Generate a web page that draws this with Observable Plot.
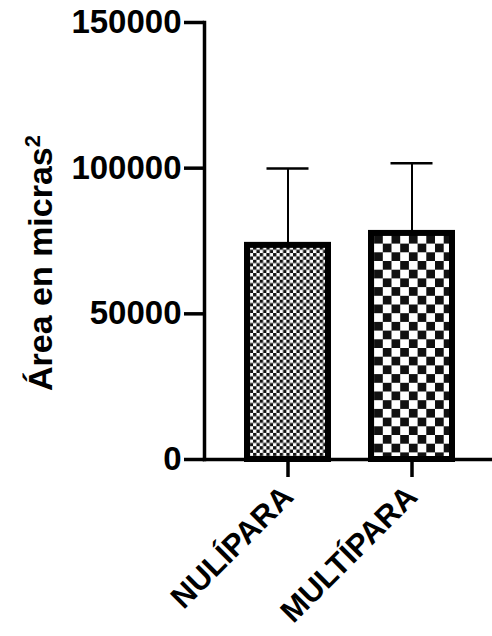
<!DOCTYPE html>
<html><head><meta charset="utf-8">
<script src="https://cdn.jsdelivr.net/npm/d3@7"></script>
<script src="https://cdn.jsdelivr.net/npm/@observablehq/plot@0.6"></script>
<style>
body{margin:0;background:#fff}
</style>
</head><body><div id="chart"></div>
<script>
const groups = ["NULÍPARA", "MULTÍPARA"];
const means = [73500, 77600];
const sds = [26400, 24100];
const patterns = ["checkSmall", "checkLarge"];
const yTicks = [0, 50000, 100000, 150000];
const yLabelBase = "Área en micras";
const yLabelSup = "2";

const data = groups.map((g, i) => ({group: g, mean: means[i], sd: sds[i], top: means[i] + sds[i]}));

const chart = Plot.plot({
  width: 492, height: 636,
  marginLeft: 204, marginRight: 0, marginTop: 22, marginBottom: 177,
  style: {fontFamily: "'Liberation Sans', Arial, sans-serif", fontSize: "33px", fontWeight: "bold", color: "#000", background: "#fff", overflow: "visible"},
  x: {domain: groups, range: [204, 495], paddingInner: 0.344, paddingOuter: 0.336},
  y: {domain: [0, 150000]},
  marks: [
    Plot.ruleX(data, {x: "group", y1: "mean", y2: "top", stroke: "#000", strokeWidth: 2}),
    Plot.tickY(data, {x: "group", y: "top", stroke: "#000", strokeWidth: 2.5, insetLeft: 19.5, insetRight: 19.5}),
    ...groups.map((g, i) => Plot.barY(data.filter(d => d.group === g), {x: "group", y: "mean", fill: `url(#${patterns[i]})`, stroke: "#000", strokeWidth: 6})),
    Plot.axisY({ticks: yTicks, tickFormat: d => String(d), tickSize: 20, tickPadding: 3, strokeWidth: 3.5, label: null}),
    Plot.text([yLabelBase], {frameAnchor: "left", textAnchor: "middle", dx: -163, dy: 22, rotate: -90, fontSize: 34, fontWeight: "bold", fill: "#000", className: "ylabel"}),
    Plot.axisX({tickRotate: -45, tickSize: 18, tickPadding: 14, fontSize: 31, strokeWidth: 3.5, label: null}),
    Plot.frame({anchor: "left", strokeWidth: 3.5}),
    Plot.frame({anchor: "bottom", strokeWidth: 3.5})
  ]
});

// superscript on the y label
d3.select(chart).selectAll(".ylabel text").each(function() {
  const t = d3.select(this);
  t.text(yLabelBase);
  t.append("tspan").attr("font-size", "22px").attr("dy", "-0.55em").text(yLabelSup);
});

const defs = d3.select(chart).insert("defs", ":first-child");
function checker(id, c) {
  const p = defs.append("pattern").attr("id", id).attr("patternUnits", "userSpaceOnUse")
    .attr("width", 2 * c).attr("height", 2 * c);
  p.append("rect").attr("width", 2 * c).attr("height", 2 * c).attr("fill", "#fff");
  p.append("rect").attr("width", c).attr("height", c).attr("fill", "#111");
  p.append("rect").attr("x", c).attr("y", c).attr("width", c).attr("height", c).attr("fill", "#111");
}
checker("checkSmall", 3.33);
checker("checkLarge", 8.7);

document.getElementById("chart").appendChild(chart);
</script>
</body></html>
